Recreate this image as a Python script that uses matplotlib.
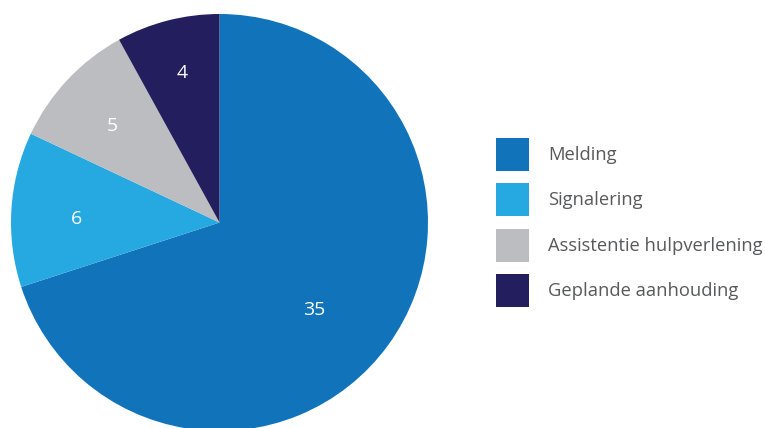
import matplotlib
matplotlib.use("Agg")
import matplotlib.pyplot as plt
import numpy as np

categories = ["Melding", "Signalering", "Assistentie hulpverlening", "Geplande aanhouding"]
values = [35, 6, 5, 4]
colors = ["#1174BB", "#25A9E0", "#BBBDC0", "#231F5F"]
label_dist = [0.61, 0.685, 0.70, 0.753]
label_shift = [-5.8, 1.0, 0.7, -0.6]

W, H = 765, 428
fig = plt.figure(figsize=(W / 100, H / 100), dpi=100)
cx, cy, R = 219.5, 428 - 222.5, 208.5
ax = fig.add_axes([(cx - R) / W, (cy - R) / H, 2 * R / W, 2 * R / H])
wedges, _ = ax.pie(values, colors=colors, startangle=90, counterclock=False,
                   radius=1, wedgeprops=dict(linewidth=0))
ax.set_xlim(-1, 1)
ax.set_ylim(-1, 1)
ax.set_aspect("equal")
ax.axis("off")

font = "Open Sans"
for w, v, d, s in zip(wedges, values, label_dist, label_shift):
    ang = np.deg2rad((w.theta1 + w.theta2) / 2 + s)
    ax.text(d * np.cos(ang), d * np.sin(ang) - 0.012, str(v), color="white",
            ha="center", va="center", fontsize=14, family=font)

fs = 13.2
fpx = fs * 100 / 72
box = 33 / fpx
hh = (box - 0.245) / 0.65
leg = fig.legend(wedges, categories, loc="upper left",
                 bbox_to_anchor=(496 / W, (H - 138) / H),
                 frameon=False, borderpad=0, borderaxespad=0,
                 handlelength=33 / fpx, handleheight=hh,
                 labelspacing=(45.3 - 33) / fpx, handletextpad=19 / fpx,
                 prop=dict(family=font, size=fs))
for t in leg.get_texts():
    t.set_color("#58595B")

fig.savefig("out.png", dpi=100)
